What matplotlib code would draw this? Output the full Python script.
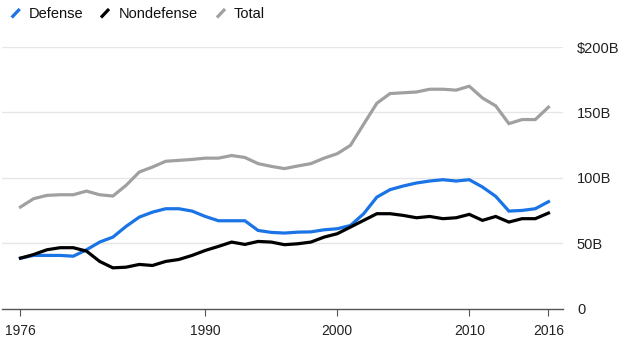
import matplotlib
matplotlib.use("Agg")
import matplotlib.pyplot as plt
from matplotlib.lines import Line2D

years = list(range(1976, 2017))
defense = [38.5, 40.6, 40.6, 40.6, 40.0, 44.9, 50.8, 54.6, 62.8, 69.9,
           73.7, 76.3, 76.3, 74.5, 70.4, 67.1, 67.1, 67.1, 59.7, 58.2,
           57.7, 58.4, 58.6, 60.2, 61.0, 63.5, 72.5, 85.2, 90.9, 93.7,
           96.0, 97.5, 98.5, 97.5, 98.5, 92.9, 85.8, 74.5, 75.0, 76.3, 81.7]
nondefense = [38.5, 41.3, 44.9, 46.5, 46.5, 43.9, 36.0, 31.1, 31.6, 33.7,
              32.9, 36.0, 37.5, 40.6, 44.4, 47.5, 50.8, 49.0, 51.3, 50.8,
              48.8, 49.5, 50.8, 54.6, 57.2, 62.3, 67.4, 72.5, 72.5, 71.2,
              69.4, 70.4, 68.7, 69.4, 72.0, 67.4, 70.4, 66.1, 68.7, 68.7, 73.0]
total = [77.6, 84.0, 86.5, 87.0, 87.0, 89.8, 87.0, 86.0, 94.2, 104.4,
         108.2, 112.6, 113.3, 114.0, 115.0, 115.0, 117.0, 115.5, 110.8, 108.7,
         107.0, 109.0, 110.8, 115.0, 118.4, 124.8, 141.0, 157.0, 164.4, 165.0,
         165.6, 167.7, 167.7, 167.0, 170.0, 161.0, 155.0, 141.4, 144.5, 144.5, 154.0]

series_names = ["Defense", "Nondefense", "Total"]
colors = ["#1a74e6", "#000000", "#a0a0a0"]
xticks = [1976, 1990, 2000, 2010, 2016]
yticks = [0, 50, 100, 150, 200]
ytick_labels = ["0", "50B", "100B", "150B", "$200B"]

plt.rcParams['font.family'] = ['Liberation Sans', 'DejaVu Sans']

W, H = 629, 355
fig = plt.figure(figsize=(W / 100, H / 100), dpi=100)
ax = fig.add_axes([2 / W, 1 - 308.5 / H, 561 / W, (308.5 - 47) / H])

for vals, c in zip([total, defense, nondefense], [colors[2], colors[0], colors[1]]):
    ax.plot(years, vals, color=c, lw=2.3, solid_joinstyle='miter', zorder=3)

ax.set_xlim(1974.6, 2017.1)
ax.set_ylim(0, 200)
ax.set_yticks(yticks)
ax.set_yticklabels(ytick_labels)
ax.yaxis.tick_right()
ax.tick_params(axis='y', length=0, pad=10, labelsize=10.5, colors='#222222')
ax.set_xticks(xticks)
ax.set_xticklabels([str(x) for x in xticks])
ax.tick_params(axis='x', length=5, width=0.8, color='#555555', pad=6,
               labelsize=10, labelcolor='#222222')
for y in yticks[1:]:
    ax.axhline(y, color='#e6e6e6', lw=1, zorder=1)
for s in ['top', 'right', 'left']:
    ax.spines[s].set_visible(False)
ax.spines['bottom'].set_color('#555555')
ax.spines['bottom'].set_linewidth(1)
ax.set_facecolor('none')

# legend
legend_x = [(11.7, 29), (101, 119), (217, 234)]
for (ix, tx), name, c in zip(legend_x, series_names, colors):
    fig.add_artist(Line2D([ix / W, (ix + 8) / W], [1 - 17.5 / H, 1 - 9 / H],
                          color=c, lw=2.3, transform=fig.transFigure,
                          solid_capstyle='butt'))
    fig.text(tx / W, 1 - 17.5 / H, name, fontsize=10.5, color='#111111',
             va='baseline', ha='left')

fig.savefig("out.png", dpi=100)
